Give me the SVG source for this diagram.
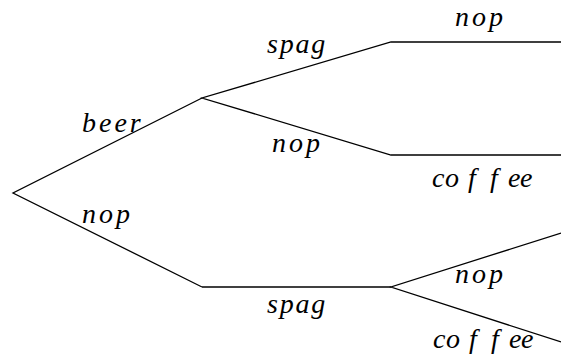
<svg xmlns="http://www.w3.org/2000/svg" width="561" height="360" viewBox="0 0 561 360">
<style>
.e{fill:none;stroke:#000;stroke-width:1.3;stroke-linejoin:miter}
.t{font-family:"Liberation Serif","Times New Roman",serif;font-style:italic;font-size:28px;fill:#000}
.w{letter-spacing:3px}
.s{letter-spacing:1.8px}
</style>
<rect width="561" height="360" fill="#fff"/>
<g id="connectors">
<polyline class="e" points="202,98 13,193 202,287"/>
<polyline class="e" points="561,42 391,42 202,98 391,155 561,155"/>
<polyline class="e" points="561,233 391,287 561,342"/>
<line class="e" x1="202" y1="287" x2="391" y2="287"/>
</g>
<g id="labels">
<text class="t w" x="82" y="132">beer</text>
<text class="t w" x="82" y="223">nop</text>
<text class="t s" x="267" y="53">spag</text>
<text class="t w" x="272" y="152">nop</text>
<text class="t s" x="267" y="313">spag</text>
<text class="t w" x="455" y="26">nop</text>
<text class="t w" x="455" y="283">nop</text>
<text class="t" x="432 445 468 490 508 520" y="187">coffee</text>
<text class="t" x="433 446 469 491 509 521" y="348">coffee</text>
</g>
</svg>
